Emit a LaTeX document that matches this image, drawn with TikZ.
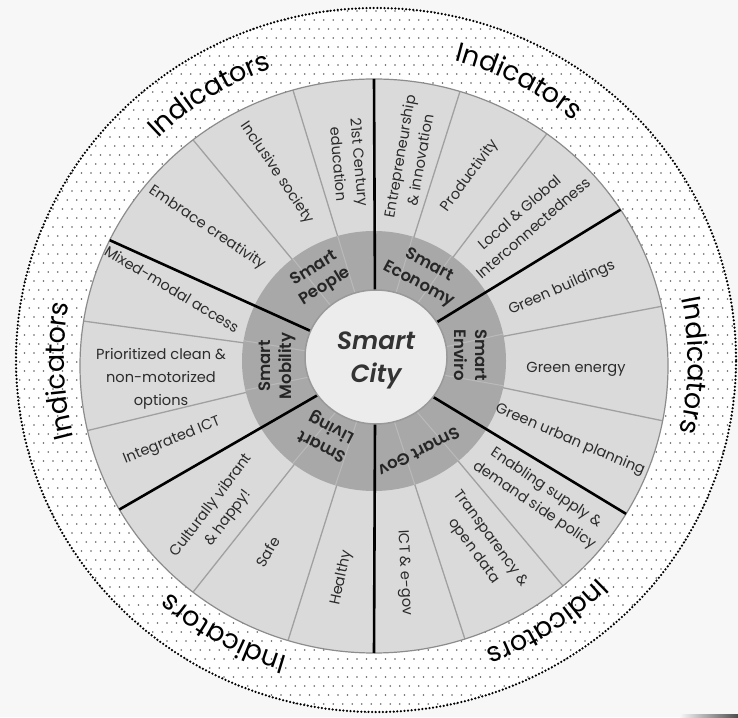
\documentclass[tikz,border=0pt]{standalone}
\usepackage{fontspec}
\setmainfont{Poppins}
\newfontfamily\semib{Poppins SemiBold}[ItalicFont={Poppins SemiBold Italic}]
\usetikzlibrary{decorations.text}
\definecolor{bgc}{HTML}{F7F7F7}
\definecolor{segc}{HTML}{DADADA}
\definecolor{ringc}{HTML}{A8A8A8}
\definecolor{hubc}{HTML}{ECECEC}
\definecolor{linec}{HTML}{A0A0A0}
\definecolor{txtc}{HTML}{2B2B2B}
\newcommand\indfont{\fontsize{27}{27}\selectfont}
\begin{document}
\begin{tikzpicture}[x=1pt,y=1pt,
  seglabel/.style={font=\fontsize{14.6}{21}\selectfont, text=txtc, align=center, inner sep=0pt},
  ringlabel/.style={font=\semib\fontsize{16.5}{21}\selectfont, text=black!85, align=center, inner sep=0pt},
  thinspoke/.style={draw=linec, line width=1.3},
  ringspoke/.style={draw=black!27, line width=1},
  mainspoke/.style={draw=black, line width=2.6},
  indic/.style={decorate, decoration={text along path, text align=center, text={|\indfont|Indicators}}}
]
\useasboundingbox (0,0) rectangle (738,717);
\fill[bgc] (0,0) rectangle (738,717);
\coordinate (C) at (375,355);
\coordinate (W) at (374,351);
\coordinate (D) at (374,356);
\coordinate (H) at (376,360);
\coordinate (O) at (376,357);
% outer dotted ring
\fill[white] (O) ellipse [x radius=361, y radius=353];
\begin{scope}
\clip (O) ellipse [x radius=361, y radius=353];
\foreach \j in {0,...,79}{
  \foreach \i in {0,...,76}{
    \fill[black!62] ({15+\i*9.5+mod(\j,2)*4.75},{4+\j*9}) circle (0.85);
  }
}
\end{scope}
\draw[black, line width=2.5, line cap=round, dash pattern=on 0pt off 3.6pt] (O) ellipse [x radius=360, y radius=352];
% wheel
\fill[segc] (W) ellipse [x radius=294, y radius=287];
\foreach \a in {106,128,73,54,12,-11,-72,-50,-107,232,171,193}
  \draw[thinspoke] ([shift={(\a:60)}]C) -- ([shift={(\a:294 and 287)}]W);
\draw[black!45, line width=1.2] (W) ellipse [x radius=294, y radius=287];
\fill[ringc] (D) ellipse [x radius=132, y radius=130];
\foreach \a in {106,128,73,54,12,-11,-72,-50,-107,232,171,193}
  \draw[ringspoke] ([shift={(\a:60)}]C) -- ([shift={(\a:132 and 130)}]D);
\foreach \a in {90,33,-31,-90,210,154}
  \draw[mainspoke] ([shift={(\a:60)}]C) -- ([shift={(\a:294 and 287)}]W);
\filldraw[fill=hubc, draw=black!40, line width=1.5] (H) ellipse [x radius=71, y radius=67];
% indicators
\foreach \p in {122,63,-1,-57,241,182}
  \path[indic] (O) ++(\p+40:312 and 309) arc[start angle=\p+40, end angle=\p-40, x radius=312, y radius=309];
% hub label
\node[font=\semib\itshape\fontsize{25}{33}\selectfont, text=black!80, align=center] (city) at (376,357) {Smart\\City};
% ring labels
\node[ringlabel, rotate=32] (rp) at (320,439) {Smart\\People};
\node[ringlabel, rotate=-28] (re) at (424,442) {Smart\\Economy};
\node[ringlabel, rotate=-90] (rv) at (471,362) {Smart\\Enviro};
\node[ringlabel, rotate=207] (rg) at (419,265) {Smart Gov};
\node[ringlabel, rotate=153] (rl) at (327,281) {Smart\\Living};
\node[ringlabel, rotate=90] (rm) at (277,351) {Smart\\Mobility};
% segment labels
\node[seglabel, rotate=-85] (p1) at (349,554) {21st Century\\education};
\node[seglabel, rotate=-56] (p2) at (277,544) {Inclusive society};
\node[seglabel, rotate=-34] (p3) at (207,489) {Embrace creativity};
\node[seglabel, rotate=80] (e1) at (410,559) {Entrepreneurship\\\& innovation};
\node[seglabel, rotate=54] (e2) at (470,541) {Productivity};
\node[seglabel, rotate=41] (e3) at (526,497) {Local \& Global\\Interconnectedness};
\node[seglabel, rotate=24] (v1) at (562,429) {Green buildings};
\node[seglabel] (v2) at (576,348) {Green energy};
\node[seglabel, rotate=-23] (v3) at (570,277) {Green urban planning};
\node[seglabel, rotate=-34] (g1) at (540,220) {Enabling supply \&\\demand side policy};
\node[seglabel, rotate=-54] (g2) at (482,172) {Transparency \&\\open data};
\node[seglabel, rotate=-87] (g3) at (404,144) {ICT \& e-gov};
\node[seglabel, rotate=53] (lv1) at (220,205) {Culturally vibrant\\\& happy!};
\node[seglabel, rotate=60] (lv2) at (268,165) {Safe};
\node[seglabel, rotate=78] (lv3) at (342,139) {Healthy};
\node[seglabel, rotate=-31] (m1) at (172,428) {Mixed-modal access};
\node[seglabel, font=\fontsize{14.6}{23}\selectfont] (m2) at (161,338) {Prioritized clean \&\\non-motorized\\options};
\node[seglabel, rotate=22] (m3) at (172,276) {Integrated ICT};
\shade[left color=bgc, right color=black!70] (680,0) rectangle (738,3);
\end{tikzpicture}
\end{document}
